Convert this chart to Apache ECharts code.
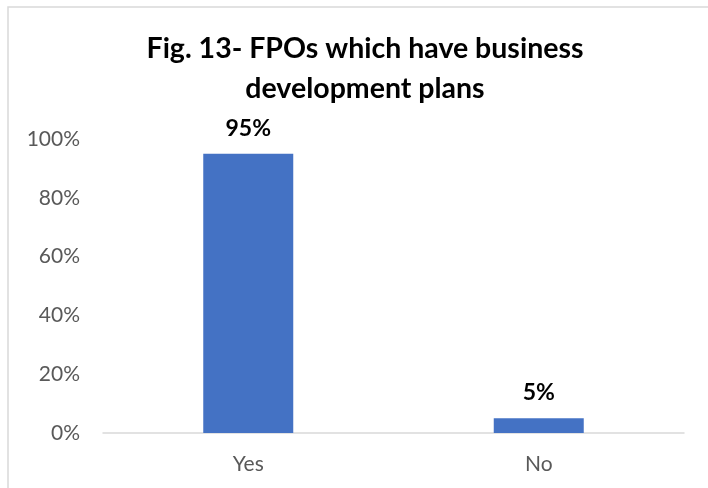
<!DOCTYPE html>
<html>
<head>
<meta charset="utf-8">
<script src="https://cdn.jsdelivr.net/npm/echarts@6/dist/echarts.min.js"></script>
<style>
  html, body { margin: 0; padding: 0; background: #ffffff; }
  #chart { width: 708px; height: 488px; }
</style>
</head>
<body>
<div id="chart"></div>
<script>
// Share of FPOs reporting a business development plan
const categories = ['Yes', 'No'];
const shares = [95, 5];
const yTicks = [0, 20, 40, 60, 80, 100];
const titleText = 'Fig. 13- FPOs which have business\ndevelopment plans';

const FONT = 'Lato';

const chart = echarts.init(document.getElementById('chart'), null, { renderer: 'canvas' });

chart.setOption({
  backgroundColor: '#ffffff',
  animation: false,
  title: {
    text: titleText,
    left: 360,
    top: 24,
    textAlign: 'center',
    textStyle: {
      fontFamily: FONT,
      fontWeight: 'bold',
      fontSize: 28.5,
      lineHeight: 40,
      color: '#000000'
    }
  },
  graphic: [{
    type: 'rect',
    shape: { x: 8, y: 7, width: 720, height: 500 },
    style: { fill: 'none', stroke: '#d9d9d9', lineWidth: 1.5 },
    silent: true,
    z: -1
  }],
  grid: { left: 103, right: 24, top: 139, bottom: 55 },
  xAxis: {
    type: 'category',
    data: categories,
    axisLine: { show: true, lineStyle: { color: '#d9d9d9', width: 1.5 } },
    axisTick: { show: false },
    axisLabel: {
      fontFamily: FONT,
      fontSize: 21,
      color: '#595959',
      margin: 21
    }
  },
  yAxis: {
    type: 'value',
    min: yTicks[0],
    max: yTicks[yTicks.length - 1],
    interval: yTicks[1] - yTicks[0],
    axisLine: { show: false },
    axisTick: { show: false },
    splitLine: { show: false },
    axisLabel: {
      fontFamily: FONT,
      fontSize: 21,
      color: '#595959',
      margin: 23,
      formatter: v => v + '%'
    }
  },
  series: [{
    type: 'bar',
    data: shares,
    barWidth: 90,
    itemStyle: { color: '#4472c4' },
    label: {
      show: true,
      position: 'top',
      distance: 14,
      fontFamily: FONT,
      fontWeight: 'bold',
      fontSize: 23,
      color: '#000000',
      formatter: p => p.value + '%'
    }
  }]
});
</script>
</body>
</html>
